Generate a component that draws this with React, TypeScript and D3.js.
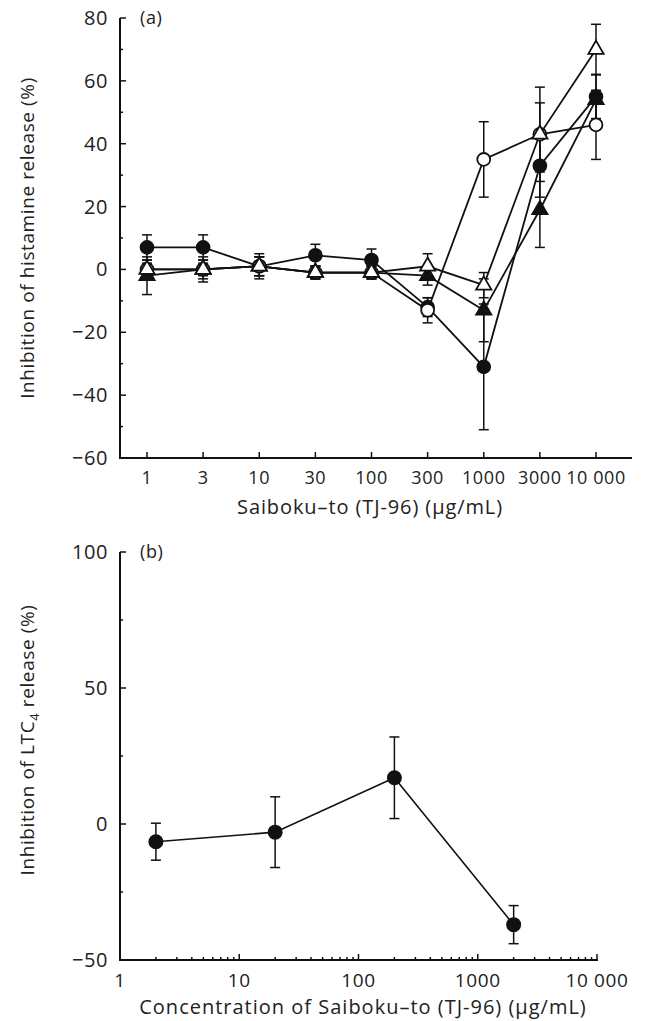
import React, { useEffect, useRef } from 'react'
import * as d3 from 'd3'

// panel (a): histamine release
const doseLabels = ['1', '3', '10', '30', '100', '300', '1000', '3000', '10 000']
const filledCircle = [7, 7, 1, 4.5, 3, -12, -31, 33, 55]
const filledCircleErr = [4, 4, 3, 3.5, 3.5, 3, 20, 10, 7]
const openCircle = [0, 0, 1, -1, -1, -13, 35, 43, 46]
const openCircleErr = [3, 3, 3, 2, 2, 4, 12, 10, 11]
const filledTriangle = [-2, 0, 1, -1, -1, -2, -13, 19, 54]
const filledTriangleErr = [6, 4, 3, 2, 2, 3, 10, 12, 8]
const openTriangle = [0, 0, 1, -1, -1, 1, -5, 43, 70]
const openTriangleErr = [2, 2, 4, 2, 2, 4, 4, 15, 8]
const yTicksA = [80, 60, 40, 20, 0, -20, -40, -60]

// panel (b): LTC4 release
const ltcDose = [2, 20, 200, 2000]
const ltcValue = [-6.5, -3, 17, -37]
const ltcErr = [6.8, 13, 15, 7]
const yTicksB = [100, 50, 0, -50]
const xTicksB = [1, 10, 100, 1000, 10000]

const FONT = '"Open Sans", Lato, sans-serif'
const INK = '#111'
const TXT = '#222'

export default function App() {
  const svgRef = useRef(null)

  useEffect(() => {
    document.body.style.margin = '0'
    const svg = d3.select(svgRef.current)
    svg.selectAll('*').remove()
    svg.style('font-family', FONT)

    const label = (g, x, y, s, size, anchor = 'middle', spacing = 0.6) =>
      g.append('text').attr('x', x).attr('y', y).attr('text-anchor', anchor)
        .attr('font-size', size).attr('fill', TXT).attr('letter-spacing', spacing).text(s)

    // ---------- panel (a)
    const xA = d3.scalePoint().domain(doseLabels).range([147, 596])
    const yA = d3.scaleLinear().domain([-60, 80]).range([458, 18])
    const gA = svg.append('g')

    gA.append('line').attr('x1', 120).attr('x2', 120).attr('y1', yA(80)).attr('y2', yA(-60))
      .attr('stroke', INK).attr('stroke-width', 2)
    gA.append('line').attr('x1', 119).attr('x2', 632).attr('y1', yA(-60)).attr('y2', yA(-60))
      .attr('stroke', INK).attr('stroke-width', 2)

    d3.range(-60, 81, 10).forEach((v) => {
      const major = v % 20 === 0
      gA.append('line').attr('x1', 120).attr('x2', 120 + (major ? 6 : 3))
        .attr('y1', yA(v)).attr('y2', yA(v)).attr('stroke', INK).attr('stroke-width', 1.5)
    })
    yTicksA.forEach((v) => {
      label(gA, 108, yA(v) + 7, v < 0 ? '\u2212' + Math.abs(v) : String(v), 20, 'end')
    })
    doseLabels.forEach((d) => {
      gA.append('line').attr('x1', xA(d)).attr('x2', xA(d))
        .attr('y1', yA(-60)).attr('y2', yA(-60) - 6).attr('stroke', INK).attr('stroke-width', 1.5)
      label(gA, xA(d), 484, d, 18)
    })
    label(gA, 370, 514, 'Saiboku\u2013to (TJ-96) (\u00b5g/mL)', 20, 'middle', 0.9)
    label(gA, 0, 0, 'Inhibition of histamine release (%)', 19).attr('x', null).attr('y', null)
      .attr('transform', 'translate(34,238) rotate(-90)')
    label(gA, 140, 24, '(a)', 18, 'start')

    const seriesA = [
      { values: filledCircle, err: filledCircleErr, shape: 'circle', fill: INK },
      { values: openCircle, err: openCircleErr, shape: 'circle', fill: '#fff' },
      { values: filledTriangle, err: filledTriangleErr, shape: 'triangle', fill: INK },
      { values: openTriangle, err: openTriangleErr, shape: 'triangle', fill: '#fff' },
    ]
    const lineA = d3.line<number>().x((_, i) => xA(doseLabels[i])).y((v) => yA(v))

    seriesA.forEach((s) => {
      s.values.forEach((v, i) => {
        const x = xA(doseLabels[i])
        gA.append('line').attr('x1', x).attr('x2', x).attr('y1', yA(v + s.err[i])).attr('y2', yA(v - s.err[i]))
          .attr('stroke', INK).attr('stroke-width', 1.5)
        ;[v + s.err[i], v - s.err[i]].forEach((e) => {
          gA.append('line').attr('x1', x - 5).attr('x2', x + 5).attr('y1', yA(e)).attr('y2', yA(e))
            .attr('stroke', INK).attr('stroke-width', 1.5)
        })
      })
    })
    seriesA.forEach((s) => {
      gA.append('path').attr('d', lineA(s.values)).attr('fill', 'none')
        .attr('stroke', INK).attr('stroke-width', 1.8)
    })
    seriesA.forEach((s) => {
      const sym = d3.symbol().type(s.shape === 'circle' ? d3.symbolCircle : d3.symbolTriangle)
        .size(s.shape === 'circle' ? 130 : 100)
      s.values.forEach((v, i) => {
        gA.append('path').attr('d', sym()).attr('transform', `translate(${xA(doseLabels[i])},${yA(v)})`)
          .attr('fill', s.fill).attr('stroke', INK).attr('stroke-width', 1.8)
      })
    })

    // ---------- panel (b)
    const xB = d3.scaleLog().domain([1, 10000]).range([120, 597])
    const yB = d3.scaleLinear().domain([-50, 100]).range([960, 552])
    const gB = svg.append('g')

    gB.append('line').attr('x1', 120).attr('x2', 120).attr('y1', yB(100)).attr('y2', yB(-50))
      .attr('stroke', INK).attr('stroke-width', 2)
    gB.append('line').attr('x1', 119).attr('x2', 598).attr('y1', yB(-50)).attr('y2', yB(-50))
      .attr('stroke', INK).attr('stroke-width', 2)

    d3.range(-50, 101, 25).forEach((v) => {
      const major = v % 50 === 0
      gB.append('line').attr('x1', 120).attr('x2', 120 + (major ? 6 : 3))
        .attr('y1', yB(v)).attr('y2', yB(v)).attr('stroke', INK).attr('stroke-width', 1.5)
    })
    yTicksB.forEach((v) => {
      label(gB, 108, yB(v) + 7, v < 0 ? '\u2212' + Math.abs(v) : String(v), 20, 'end')
    })
    xB.ticks().forEach((t) => {
      const major = xTicksB.includes(t)
      gB.append('line').attr('x1', xB(t)).attr('x2', xB(t))
        .attr('y1', yB(-50)).attr('y2', yB(-50) - (major ? 6 : 3)).attr('stroke', INK).attr('stroke-width', 1.5)
    })
    xTicksB.forEach((t) => {
      label(gB, xB(t), 987, t === 10000 ? '10 000' : String(t), 19)
    })
    label(gB, 363, 1014, 'Concentration of Saiboku\u2013to (TJ-96) (\u00b5g/mL)', 20, 'middle', 1.0)
    const yLab = gB.append('text').attr('transform', 'translate(34,740) rotate(-90)').attr('text-anchor', 'middle')
      .attr('font-size', 19).attr('fill', TXT).attr('letter-spacing', 0.6)
    yLab.append('tspan').text('Inhibition of LTC')
    yLab.append('tspan').attr('font-size', 13).attr('dy', 5).text('4')
    yLab.append('tspan').attr('dy', -5).text(' release (%)')
    label(gB, 140, 558, '(b)', 18, 'start')

    ltcValue.forEach((v, i) => {
      const x = xB(ltcDose[i])
      gB.append('line').attr('x1', x).attr('x2', x).attr('y1', yB(v + ltcErr[i])).attr('y2', yB(v - ltcErr[i]))
        .attr('stroke', INK).attr('stroke-width', 1.5)
      ;[v + ltcErr[i], v - ltcErr[i]].forEach((e) => {
        gB.append('line').attr('x1', x - 5).attr('x2', x + 5).attr('y1', yB(e)).attr('y2', yB(e))
          .attr('stroke', INK).attr('stroke-width', 1.5)
      })
    })
    const lineB = d3.line<number>().x((_, i) => xB(ltcDose[i])).y((v) => yB(v))
    gB.append('path').attr('d', lineB(ltcValue)).attr('fill', 'none').attr('stroke', INK).attr('stroke-width', 1.6)
    ltcValue.forEach((v, i) => {
      gB.append('circle').attr('cx', xB(ltcDose[i])).attr('cy', yB(v)).attr('r', 7.5).attr('fill', INK)
    })
  }, [])

  return <svg ref={svgRef} width="645" height="1021" style={{ display: 'block' }}></svg>
}
